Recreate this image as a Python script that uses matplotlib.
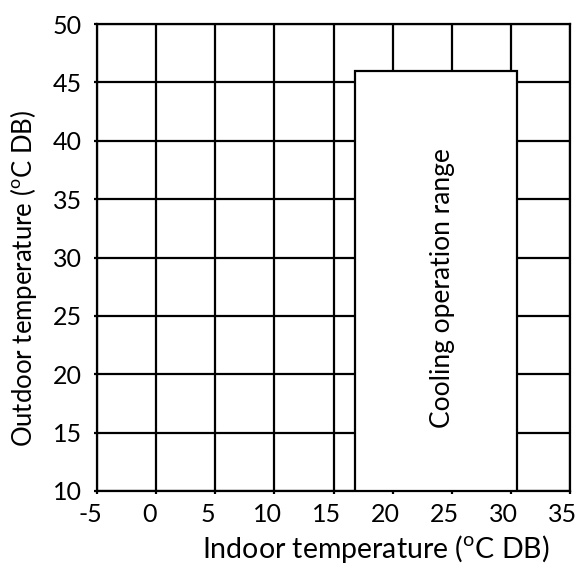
import matplotlib
matplotlib.use("Agg")
import matplotlib.pyplot as plt
import matplotlib.transforms as mtransforms
from matplotlib.patches import Rectangle

x_ticks = [-5, 0, 5, 10, 15, 20, 25, 30, 35]
y_ticks = [10, 15, 20, 25, 30, 35, 40, 45, 50]
range_x = [16.8, 30.5]
range_y = [10, 46]
range_label = "Cooling operation range"

plt.rcParams['font.family'] = ['Lato', 'DejaVu Sans']
plt.rcParams['mathtext.fontset'] = 'custom'
plt.rcParams['mathtext.rm'] = 'Lato'

W, H = 579, 565
fig = plt.figure(figsize=(W/100, H/100), dpi=100)
ax = fig.add_axes([97/W, 1-491/H, (570-97)/W, (491-24)/H])
ax.set_xlim(x_ticks[0], x_ticks[-1])
ax.set_ylim(y_ticks[0], y_ticks[-1])
ax.set_xticks(x_ticks)
ax.set_yticks(y_ticks)
ax.set_xticklabels([str(v) for v in x_ticks])
ax.set_yticklabels([str(v) for v in y_ticks])
ax.grid(True, color='black', linewidth=1.6)
ax.set_axisbelow(True)
for s in ax.spines.values():
    s.set_linewidth(1.6)
ax.tick_params(length=2, width=1.6, labelsize=18)
ax.tick_params(axis='x', pad=7)
ax.tick_params(axis='y', pad=9)

off = mtransforms.ScaledTranslation(-7/100, 0, fig.dpi_scale_trans)
for lab in ax.get_xticklabels():
    lab.set_transform(lab.get_transform() + off)

rect = Rectangle((range_x[0], range_y[0]), range_x[1]-range_x[0], range_y[1]-range_y[0],
                 facecolor='white', edgecolor='black', linewidth=1.6, zorder=3)
ax.add_patch(rect)
ax.text(24.2, 27.4, range_label,
        rotation=90, ha='center', va='center', fontsize=19, zorder=4)

ax.set_xlabel("Indoor temperature ($^{\\mathrm{o}}$C DB)", fontsize=20.5)
ax.set_ylabel("Outdoor temperature ($^{\\mathrm{o}}$C DB)", fontsize=18.5)
ax.xaxis.set_label_coords(0.59, -0.09)
ax.yaxis.set_label_coords(-0.122, 0.454)

fig.savefig("out.png", dpi=100)
